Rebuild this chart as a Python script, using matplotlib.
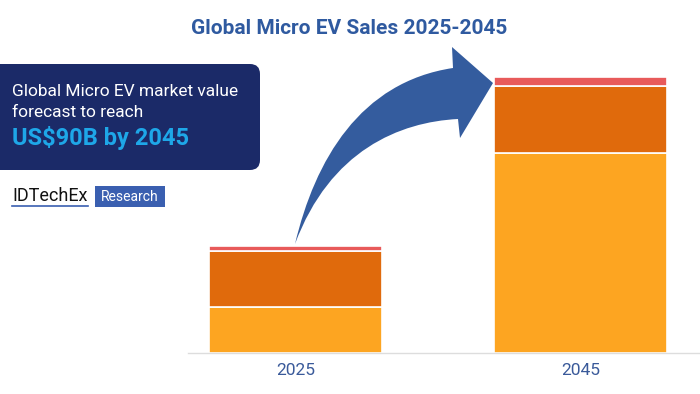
import matplotlib
matplotlib.use("Agg")
import matplotlib.pyplot as plt
from matplotlib.patches import FancyBboxPatch, Rectangle, PathPatch
from matplotlib.path import Path

plt.rcParams['font.family'] = ['Roboto', 'DejaVu Sans']

# Data (relative bar segment heights)
years = ["2025", "2045"]
seg_bottom = [46, 200]   # light orange
seg_middle = [56, 67]    # dark orange
seg_top = [5, 9]         # red

c_bottom = "#fda521"
c_middle = "#e06a0c"
c_top = "#e85a5a"
blue = "#2f5aa0"

W, H = 700, 394
fig = plt.figure(figsize=(7, 3.94), dpi=100)

# main chart axes
ax = fig.add_axes([188 / W, (H - 353) / H, (W - 188) / W, 300 / H])
x = [0, 1]
bw = 0.607
ax.bar(x, seg_bottom, width=bw, color=c_bottom, edgecolor="white", linewidth=1.2)
ax.bar(x, seg_middle, width=bw, bottom=seg_bottom, color=c_middle, edgecolor="white", linewidth=1.2)
b2 = [a + b for a, b in zip(seg_bottom, seg_middle)]
ax.bar(x, seg_top, width=bw, bottom=b2, color=c_top, edgecolor="white", linewidth=1.2)
ax.set_xlim(-0.377, 1.419)
ax.set_ylim(0, 300)
ax.set_xticks(x)
ax.set_xticklabels(years, color="#3a5a9a", fontsize=12.5)
ax.tick_params(axis="x", length=0, pad=7)
ax.set_yticks([])
for s in ["top", "right", "left"]:
    ax.spines[s].set_visible(False)
ax.spines["bottom"].set_color("#dddddd")
ax.spines["bottom"].set_linewidth(1)
ax.patch.set_visible(False)

# overlay axes in pixel coordinates
ov = fig.add_axes([0, 0, 1, 1], zorder=5)
ov.set_xlim(0, W)
ov.set_ylim(H, 0)
ov.axis("off")
ov.patch.set_visible(False)

# title
ov.text(349, 28, "Global Micro EV Sales 2025-2045", ha="center", va="center",
        fontsize=15, fontweight="bold", color=blue)

# curved arrow
verts = [
    (295, 244),
    (315, 160), (360, 82), (453, 68),
    (452, 47),
    (493, 83),
    (460, 138),
    (458, 119),
    (400, 122), (330, 150), (295, 244),
    (295, 244),
]
codes = [Path.MOVETO,
         Path.CURVE4, Path.CURVE4, Path.CURVE4,
         Path.LINETO, Path.LINETO, Path.LINETO, Path.LINETO,
         Path.CURVE4, Path.CURVE4, Path.CURVE4,
         Path.CLOSEPOLY]
ov.add_patch(PathPatch(Path(verts, codes), facecolor="#345c9e", edgecolor="none"))

# info box
ov.add_patch(FancyBboxPatch((-30, 64), 290, 106,
                            boxstyle="round,pad=0,rounding_size=10",
                            facecolor="#1b2a68", edgecolor="none"))
ov.text(12, 91, "Global Micro EV market value", ha="left", va="center",
        fontsize=12.5, color="white")
ov.text(12, 112, "forecast to reach", ha="left", va="center",
        fontsize=12.5, color="white")
ov.text(12, 138, "US$90B by 2045", ha="left", va="center",
        fontsize=17, fontweight="bold", color="#1ea7e8")

# logo
ov.text(12, 196, "IDTechEx", ha="left", va="center", fontsize=13, color="#111111")
ov.plot([12, 88], [206, 206], color="#3a5fb0", lw=1.2)
ov.add_patch(Rectangle((95, 186), 70, 21, facecolor="#3a5fb0", edgecolor="none"))
ov.text(130, 196.5, "Research", ha="center", va="center", fontsize=10, color="white")

fig.savefig("out.png", dpi=100)
